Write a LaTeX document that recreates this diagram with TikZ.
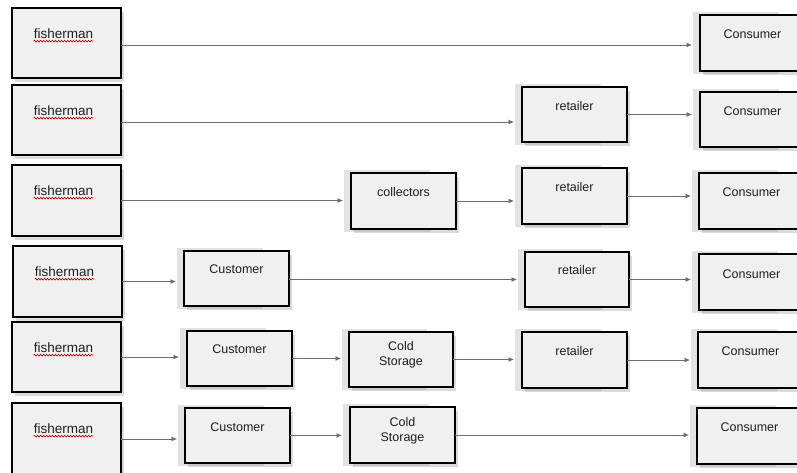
\documentclass[tikz,border=0pt]{standalone}
\usepackage{fontspec}
\setmainfont{Liberation Sans}
\usetikzlibrary{shadows,arrows.meta,decorations.pathmorphing}
\definecolor{boxfill}{HTML}{F0F0F0}
\definecolor{backgray}{HTML}{E3E3E3}
\definecolor{linecol}{HTML}{66716F}
\definecolor{txtcol}{HTML}{1E1E1E}
\tikzset{
  box/.style={draw=black, line width=1.6pt, fill=boxfill, inner sep=0pt, outer sep=0pt,
    drop shadow={shadow xshift=2.5pt, shadow yshift=-3.5pt, opacity=0.28, fill=gray}},
  lbl/.style={text=txtcol, font=\fontsize{12.5}{15}\selectfont, inner sep=0pt, align=center},
  flbl/.style={text=txtcol, font=\fontsize{13.5}{15}\selectfont, inner sep=0pt},
  conn/.style={draw=linecol, line width=0.8pt, -{Latex[length=5.5pt,width=5pt]}, shorten >=8pt},
  wavy/.style={draw=red!75!black, line width=0.6pt, decorate, decoration={snake, amplitude=0.9pt, segment length=3pt}}
}
% #1 name, #2 x0, #3 y0, #4 x1, #5 y1, #6 text, #7 text offset from top
\newcommand\mybox[7]{%
  \fill[backgray] (#2-7,#3-3) rectangle ({#2+0.75*(#4-#2)},#5+3);
  \node[box, minimum width={(#4-#2)*1pt}, minimum height={(#5-#3)*1pt}] (#1) at ({(#2+#4)/2},{(#3+#5)/2}) {};
  \node[lbl] (#1t) at ({(#2+#4)/2},{#3+#7}) {#6};
}
\newcommand\fishbox[5]{%
  \node[box, minimum width={(#4-#2)*1pt}, minimum height={(#5-#3)*1pt}] (#1) at ({(#2+#4)/2},{(#3+#5)/2}) {};
  \node[flbl] (#1t) at ({(#2+#4)/2-3},{#3+26}) {fisherman};
  \draw[wavy] ([yshift=-2pt]#1t.south west) -- ([yshift=-2pt]#1t.south east);
}
\begin{document}
\begin{tikzpicture}[x=1pt,y=-1pt]
\useasboundingbox (0,0) rectangle (797,472);
\clip (0,0) rectangle (797,472);
\fill[white] (0,0) rectangle (797,472);
% row 1
\fishbox{f1}{12}{8}{121}{78}
\mybox{c1}{700}{15}{805}{71}{Consumer}{19}
% row 2
\fishbox{f2}{12}{85}{121}{155}
\mybox{r2}{522}{87}{627}{142}{retailer}{19}
\mybox{c2}{700}{92}{805}{147}{Consumer}{19}
% row 3
\fishbox{f3}{12}{165}{121}{236}
\mybox{k3}{351}{173}{456}{229}{collectors}{19}
\mybox{r3}{522}{168}{627}{224}{retailer}{19}
\mybox{c3}{699}{173}{804}{229}{Consumer}{19}
% row 4
\fishbox{f4}{13}{246}{122}{317}
\mybox{u4}{184}{251}{289}{306}{Customer}{18}
\mybox{r4}{525}{252}{629}{307}{retailer}{18}
\mybox{c4}{699}{254}{804}{310}{Consumer}{20}
% row 5
\fishbox{f5}{12}{322}{121}{392}
\mybox{u5}{187}{331}{292}{386}{Customer}{18}
\mybox{s5}{349}{332}{453}{387}{Cold\\Storage}{23}
\mybox{r5}{522}{332}{627}{388}{retailer}{19}
\mybox{c5}{698}{332}{803}{388}{Consumer}{19}
% row 6
\fishbox{f6}{12}{403}{121}{475}
\mybox{u6}{185}{408}{290}{463}{Customer}{19}
\mybox{s6}{350}{407}{455}{463}{Cold\\Storage}{24}
\mybox{c6}{697}{408}{802}{464}{Consumer}{19}
% connectors
\draw[conn] ([yshift=-2pt]f1.east) -- ([yshift=-2pt]f1.east -| c1.west);
\draw[conn] ([yshift=-2pt]f2.east) -- ([yshift=-2pt]f2.east -| r2.west);
\draw[conn] (r2.east) -- (r2.east -| c2.west);
\draw[conn] (f3.east) -- (f3.east -| k3.west);
\draw[conn] (k3.east) -- (k3.east -| r3.west);
\draw[conn] (r3.east) -- (r3.east -| c3.west);
\draw[conn] (f4.east) -- (f4.east -| u4.west);
\draw[conn] ([yshift=-1pt]u4.east) -- ([yshift=-1pt]u4.east -| r4.west);
\draw[conn] (r4.east) -- (r4.east -| c4.west);
\draw[conn] (f5.east) -- (f5.east -| u5.west);
\draw[conn] (u5.east) -- (u5.east -| s5.west);
\draw[conn] (s5.east) -- (s5.east -| r5.west);
\draw[conn] (r5.east) -- (r5.east -| c5.west);
\draw[conn] (f6.east) -- (f6.east -| u6.west);
\draw[conn] (u6.east) -- (u6.east -| s6.west);
\draw[conn] (s6.east) -- (s6.east -| c6.west);
\end{tikzpicture}
\end{document}
